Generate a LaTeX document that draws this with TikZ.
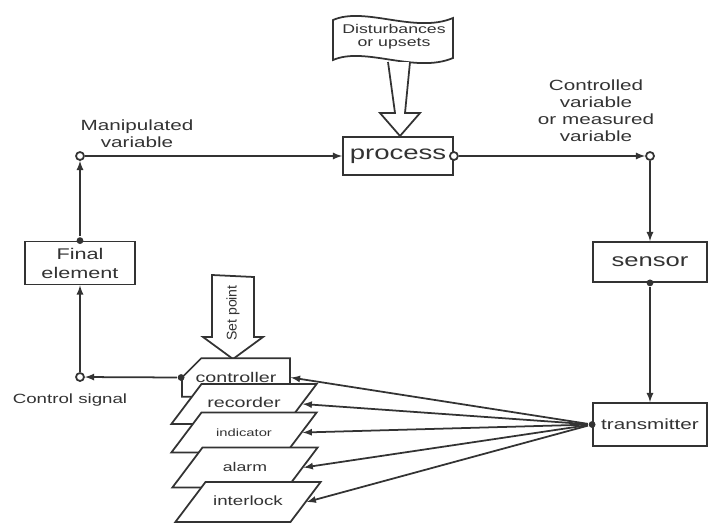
\documentclass[tikz,border=0pt]{standalone}
\usepackage{fontspec}
\setmainfont{Liberation Sans}[FakeStretch=1.4]
\newfontfamily\narrowsf{Liberation Sans}
\usetikzlibrary{shapes.geometric,shapes.misc}

\begin{document}
\begin{tikzpicture}[x=0.025cm,y=-0.025cm,line width=1.25pt,color=black!80,%1単位=1px
    box/.style={draw,fill=white,minimum width=2.75cm,minimum height=1cm,inner sep=1pt},%四角
    para/.style={trapezium,trapezium left angle=53,trapezium right angle=127,draw,fill=white,text width=2.125cm,align=center,text height=7pt,text depth=2pt,inner xsep=0pt,inner ysep=9.7pt},%平行四辺形
    jct/.style={circle,draw,fill=white,inner sep=0pt,minimum size=0.2cm},%白丸
    dot/.style={circle,fill=black!80,inner sep=0pt,minimum size=0.17cm}]%黒丸
                \useasboundingbox (0,0) rectangle (708,528);%枠
                \draw[fill=white] (333,20) .. controls (365,6) and (415,34) .. (453,18) -- (453,58) .. controls (415,74) and (365,46) .. (333,60) -- cycle;%旗
                \node[align=center,font=\fontsize{9}{9.5}\selectfont] (disturb) at (394,37) {Disturbances\\or upsets};
                \draw[fill=white] (388,62) -- (395,113) -- (380,113) -- (400,136) -- (420,113) -- (405,113) -- (410,62);%外乱の矢印
                \node[box,minimum height=0.95cm,font=\fontsize{14}{16}\selectfont] (process) at (398,156) {process};
                \node[box,minimum height=1.075cm,align=center,font=\fontsize{11}{13.5}\selectfont] (final) at (80,263) {Final\\element};
                \node[box,minimum width=2.85cm,font=\fontsize{13}{15}\selectfont] (sensor) at (650,262) {sensor};
                \node[box,minimum width=2.85cm,minimum height=1.075cm,font=\fontsize{10.5}{12}\selectfont] (transmitter) at (650,424.5) {transmitter};
                \draw[fill=white] (212,275) -- (212,337) -- (203,337) -- (233,359) -- (263,337) -- (254,337) -- (254,277) -- cycle;%設定値の矢印
                \node[rotate=90,font=\narrowsf\fontsize{10}{11}\selectfont] (setpoint) at (233,313) {Set point};
                \node[chamfered rectangle,chamfered rectangle corners=north west,chamfered rectangle xsep=0.5cm,chamfered rectangle ysep=0.35cm,draw,fill=white,minimum width=2.7cm,minimum height=0.875cm,inner sep=0pt,font=\fontsize{10}{12}\selectfont] (controller) at (236,377.5) {controller};
                \node[para,font=\fontsize{10}{12}\selectfont] (recorder) at (244,404) {recorder};
                \node[para,font=\fontsize{7.5}{9}\selectfont] (indicator) at (244,432.5) {indicator};
                \node[para,font=\fontsize{9}{11}\selectfont] (alarm) at (245,467.5) {alarm};
                \node[para,font=\fontsize{9.5}{11}\selectfont] (interlock) at (248,502) {interlock};
                \node[jct] (mv) at (80,156) {};%操作量
                \node[jct] (cv) at (650,156) {};%制御量
                \node[jct] (cs) at (80,377) {};%制御信号
                \node[jct] (pout) at (process.east) {};
                \node[dot] (fdot) at (final.north) {};
                \node[dot] (sdot) at (sensor.south) {};
                \node[dot] (tdot) at (transmitter.west) {};
                \node[dot] (cdot) at (controller.west) {};
                \draw[-latex] (fdot) -- (mv);
                \draw[-latex] (mv) -- (process.west);
                \draw[-latex] (pout) -- (cv);
                \draw[-latex] (cv) -- (sensor.north);
                \draw[-latex] (sdot) -- (transmitter.north);
                \draw[-latex] (cdot) -- (cs);
                \draw[-latex] (cs) -- (final.south);
                \draw[-latex] (tdot) -- (controller.east);
                \draw[-latex] (tdot) -- (recorder.east);
                \draw[-latex] (tdot) -- (indicator.east);
                \draw[-latex] (tdot) -- (alarm.east);
                \draw[-latex] (tdot) -- (interlock.east);
                \node[align=center,font=\fontsize{10.5}{12}\selectfont] (mvlabel) at (137,134) {Manipulated\\variable};
                \node[align=center,font=\fontsize{10.5}{12}\selectfont] (cvlabel) at (596,111) {Controlled\\variable\\or measured\\variable};
                \node[font=\fontsize{9.5}{11}\selectfont] (cslabel) at (70,400) {Control signal};
            \end{tikzpicture}
\end{document}
